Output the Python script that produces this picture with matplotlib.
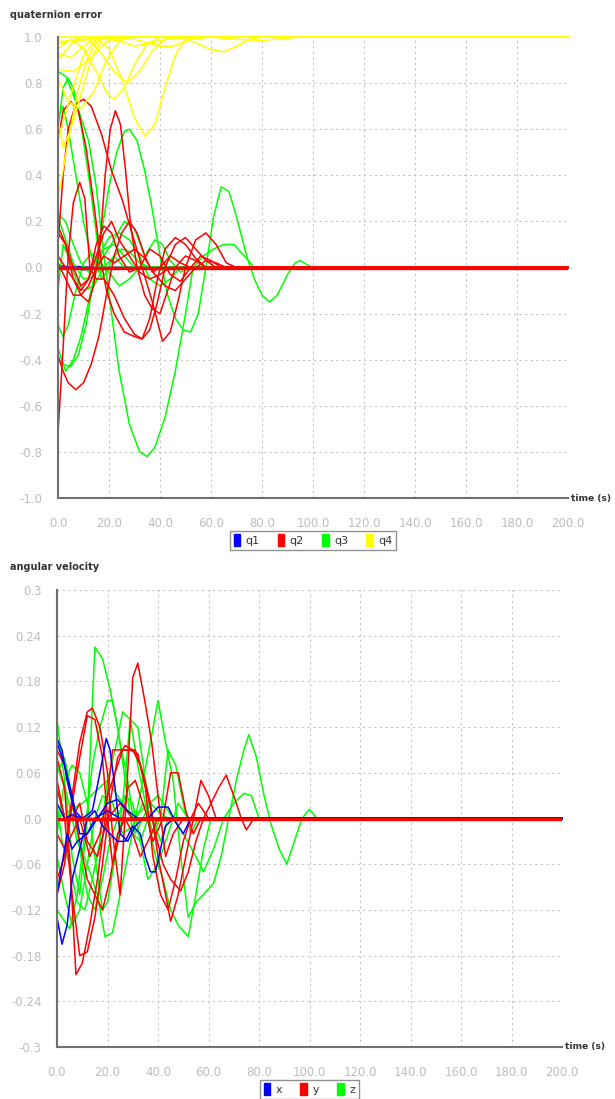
import matplotlib
matplotlib.use("Agg")
import matplotlib.pyplot as plt
from matplotlib.patches import Patch

# ---- quaternion error: each run is a list of (time, value) points ----
q1_runs = [
    [(0, 0.01), (5, 0.0), (10, -0.01), (20, 0.0), (200, 0.0)],
    [(0, -0.01), (6, 0.005), (14, 0.0), (200, 0.0)],
]

q2_runs = [
    [(0, 0.55), (2, 0.68), (5, 0.72), (8, 0.68), (11, 0.52), (14, 0.28), (17, 0.02), (19, -0.1), (22, -0.2),
     (26, -0.28), (30, -0.3), (33, -0.31), (36, -0.22), (39, -0.05), (42, 0.08), (46, 0.13), (50, 0.1),
     (54, 0.04), (58, 0.0), (200, 0.0)],
    [(0, 0.1), (2, 0.4), (4, 0.6), (7, 0.71), (10, 0.73), (13, 0.7), (17, 0.58), (21, 0.42), (25, 0.3),
     (29, 0.15), (33, 0.0), (37, -0.15), (41, -0.32), (44, -0.28), (47, -0.15), (50, 0.0), (54, 0.12),
     (58, 0.15), (62, 0.1), (66, 0.02), (70, 0.0), (200, 0.0)],
    [(0, -0.72), (2, -0.35), (4, 0.05), (6, 0.28), (8.5, 0.37), (10.5, 0.3), (12.5, 0.0), (15, -0.05),
     (18, -0.05), (22, -0.12), (26, -0.22), (30, -0.29), (33, -0.31), (36, -0.27), (39, -0.15), (42, 0.0),
     (46, 0.1), (50, 0.13), (54, 0.08), (58, 0.03), (62, 0.0), (200, 0.0)],
    [(0, 0.05), (3, 0.0), (6, -0.05), (9, -0.12), (12, -0.15), (14, -0.08), (16.5, 0.1), (18.5, 0.4),
     (20.5, 0.6), (22.5, 0.68), (24.5, 0.62), (26.5, 0.42), (28.5, 0.18), (31, 0.0), (34, -0.12),
     (37, -0.18), (40, -0.2), (43, -0.1), (46, 0.0), (50, 0.05), (54, 0.03), (58, 0.0), (200, 0.0)],
    [(0, 0.15), (3, 0.1), (6, 0.0), (9, -0.08), (12, -0.05), (15, 0.1), (18, 0.18), (21, 0.15), (24, 0.05),
     (28, -0.02), (32, 0.0), (36, 0.08), (40, 0.05), (44, -0.03), (48, -0.06), (52, 0.0), (56, 0.05),
     (60, 0.03), (64, 0.0), (200, 0.0)],
    [(0, -0.38), (2, -0.45), (4, -0.5), (7, -0.53), (10, -0.5), (13, -0.42), (16, -0.3), (19, -0.12),
     (22, 0.05), (25, 0.15), (28, 0.2), (31, 0.15), (34, 0.05), (37, -0.02), (40, 0.0), (44, 0.05),
     (48, 0.02), (52, 0.0), (200, 0.0)],
    [(0, 0.02), (3, -0.05), (6, -0.12), (9, -0.12), (12, -0.08), (15, 0.0), (18, 0.05), (22, 0.02),
     (26, 0.05), (30, 0.08), (34, 0.04), (38, -0.03), (42, -0.08), (46, -0.1), (50, -0.05), (54, 0.0),
     (58, 0.03), (62, 0.02), (66, 0.0), (200, 0.0)],
    [(0, 0.18), (3, 0.1), (6, -0.05), (9, -0.1), (12, -0.05), (15, 0.05), (18, 0.15), (21, 0.2), (24, 0.12),
     (28, 0.05), (32, -0.02), (36, -0.05), (40, -0.03), (44, 0.0), (200, 0.0)],
]

q3_runs = [
    [(0, 0.85), (3, 0.83), (6, 0.75), (9, 0.65), (12, 0.55), (15, 0.35), (18, 0.05), (21, -0.2),
     (24, -0.45), (28, -0.68), (32, -0.8), (35, -0.82), (38, -0.78), (42, -0.65), (46, -0.45), (50, -0.2),
     (53, 0.0), (57, 0.05), (61, 0.08), (65, 0.1), (69, 0.1), (73, 0.05), (77, 0.0), (200, 0.0)],
    [(0, -0.4), (2, -0.42), (5, -0.43), (8, -0.38), (11, -0.25), (14, -0.05), (17, 0.15), (20, 0.35),
     (23, 0.5), (26, 0.59), (28, 0.6), (31, 0.55), (34, 0.42), (37, 0.25), (40, 0.05), (43, -0.12),
     (46, -0.22), (49, -0.27), (52, -0.28), (55, -0.2), (58, 0.0), (61, 0.22), (64, 0.35), (67, 0.33),
     (70, 0.22), (74, 0.05), (77, -0.05), (80, -0.12), (83, -0.15), (86, -0.12), (90, -0.03), (93, 0.02),
     (95, 0.03), (98, 0.01), (100, 0.0), (200, 0.0)],
    [(0, 0.6), (2, 0.78), (4, 0.82), (6, 0.78), (9, 0.62), (12, 0.4), (15, 0.15), (17, -0.05), (19, -0.02),
     (22, 0.05), (25, 0.08), (28, 0.07), (32, 0.02), (36, 0.0), (200, 0.0)],
    [(0, 0.23), (3, 0.2), (6, 0.1), (9, 0.02), (12, -0.02), (16, 0.05), (20, 0.13), (24, 0.15), (28, 0.12),
     (32, 0.05), (36, -0.05), (40, -0.08), (44, -0.05), (48, 0.0), (200, 0.0)],
    [(0, 0.22), (3, 0.12), (6, 0.02), (10, -0.05), (14, -0.04), (18, 0.05), (22, 0.12), (26, 0.2),
     (30, 0.17), (34, 0.05), (38, 0.12), (41, 0.1), (44, 0.03), (48, -0.02), (52, 0.0), (200, 0.0)],
    [(0, -0.25), (2, -0.3), (4, -0.25), (7, -0.1), (10, 0.02), (13, 0.06), (16, 0.03), (20, -0.02),
     (24, -0.08), (28, -0.05), (32, 0.0), (200, 0.0)],
    [(0, -0.1), (2, 0.1), (4, 0.05), (7, -0.05), (10, -0.1), (14, -0.08), (18, 0.0), (22, 0.05), (26, 0.0),
     (200, 0.0)],
    [(0, -0.35), (3, -0.45), (6, -0.4), (9, -0.3), (12, -0.15), (15, 0.0), (18, 0.08), (22, 0.1), (26, 0.05),
     (30, 0.0), (200, 0.0)],
    [(0, 0.65), (2, 0.7), (4, 0.6), (7, 0.4), (10, 0.2), (13, 0.05), (16, -0.02), (20, 0.0), (200, 0.0)],
]

q4_runs = [
    [(0, 0.30), (4, 0.55), (8, 0.78), (12, 0.92), (16, 0.99), (20, 1.0), (200, 1.0)],
    [(0, 0.55), (5, 0.75), (10, 0.92), (15, 0.99), (20, 0.95), (25, 0.82), (30, 0.65), (34, 0.57),
     (38, 0.62), (42, 0.78), (46, 0.92), (50, 0.99), (55, 1.0), (200, 1.0)],
    [(0, 0.95), (5, 0.99), (10, 0.95), (15, 0.85), (19, 0.76), (22, 0.73), (26, 0.78), (30, 0.88),
     (35, 0.97), (40, 1.0), (200, 1.0)],
    [(0, 0.9), (6, 0.98), (12, 0.99), (17, 0.93), (22, 0.85), (27, 0.80), (32, 0.85), (37, 0.94),
     (42, 0.99), (47, 1.0), (200, 1.0)],
    [(0, 0.65), (2, 0.52), (5, 0.6), (9, 0.75), (13, 0.9), (17, 0.99), (22, 1.0), (200, 1.0)],
    [(0, 0.82), (4, 0.72), (9, 0.69), (14, 0.76), (19, 0.9), (24, 0.98), (28, 1.0), (200, 1.0)],
    [(0, 0.93), (5, 0.91), (10, 0.96), (15, 1.0), (25, 0.98), (30, 0.96), (35, 0.97), (42, 0.99),
     (50, 1.0), (200, 1.0)],
    [(0, 0.98), (20, 1.0), (40, 1.0), (50, 0.99), (55, 0.97), (60, 0.945), (65, 0.935), (70, 0.96),
     (75, 0.99), (80, 1.0), (200, 1.0)],
    [(0, 0.97), (10, 1.0), (30, 0.99), (40, 0.96), (45, 0.96), (52, 0.99), (60, 1.0), (200, 1.0)],
    [(0, 1.0), (60, 1.0), (70, 0.99), (80, 0.985), (85, 0.99), (95, 1.0), (200, 1.0)],
    [(0, 0.86), (6, 0.85), (12, 0.9), (18, 0.97), (22, 1.0), (200, 1.0)],
]

# ---- angular velocity ----
wx_runs = [
    [(0, 0.105), (2, 0.09), (4, 0.05), (7, 0.01), (10, 0.0), (14, 0.01), (17, 0.06), (19.5, 0.105),
     (21, 0.09), (23, 0.04), (25, -0.02), (28, -0.03), (31, -0.01), (34, 0.0), (40, 0.0), (200, 0.0)],
    [(0, -0.13), (2, -0.165), (4, -0.14), (6, -0.08), (9, -0.04), (12, 0.0), (15, 0.01), (18, -0.01),
     (21, -0.02), (24, -0.03), (27, -0.03), (30, -0.01), (33, -0.02), (35, -0.05), (37, -0.07), (39, -0.07),
     (41, -0.04), (43, -0.01), (46, 0.0), (200, 0.0)],
    [(0, 0.1), (3, 0.07), (6, 0.03), (9, -0.02), (12, -0.02), (16, 0.0), (20, 0.02), (24, 0.025),
     (28, 0.01), (32, 0.0), (36, 0.0), (40, 0.015), (44, 0.015), (47, -0.005), (50, -0.02), (53, 0.0),
     (200, 0.0)],
    [(0, -0.1), (2, -0.06), (4, -0.02), (6, -0.04), (8, -0.03), (12, -0.02), (15, 0.0), (20, 0.01),
     (25, 0.0), (200, 0.0)],
    [(0, 0.02), (3, 0.0), (6, 0.005), (10, 0.0), (200, 0.0)],
]

wy_runs = [
    [(0, 0.08), (3, 0.04), (5, -0.05), (7.5, -0.205), (10, -0.19), (13, -0.14), (16, -0.08), (19, 0.0),
     (22, 0.09), (25, 0.09), (28, 0.09), (31, 0.09), (34, 0.06), (37, 0.02), (40, -0.05), (43, -0.1),
     (45, -0.135), (48, -0.1), (51, -0.05), (54, 0.0), (57, 0.05), (60, 0.03), (63, 0.0), (200, 0.0)],
    [(0, 0.05), (3, 0.0), (6, -0.1), (9, -0.18), (12, -0.175), (15, -0.13), (18, -0.06), (21, 0.02),
     (24, 0.08), (27, 0.096), (30, 0.09), (33, 0.07), (36, 0.03), (39, -0.02), (42, -0.06), (45, -0.08),
     (49, -0.095), (52, -0.07), (55, -0.03), (58, 0.0), (61, 0.02), (64, 0.04), (67, 0.057), (70, 0.03),
     (73, 0.0), (75, -0.015), (78, 0.0), (200, 0.0)],
    [(0, -0.08), (3, -0.05), (6, 0.03), (9, 0.1), (12, 0.14), (14, 0.145), (17, 0.12), (20, 0.06),
     (22, -0.02), (25, -0.1), (27.5, 0.03), (30, 0.185), (32, 0.204), (35, 0.15), (37.5, 0.1), (40, 0.03),
     (43, -0.05), (46, -0.02), (50, 0.0), (200, 0.0)],
    [(0, -0.1), (3, -0.06), (6, 0.02), (9, 0.08), (12, 0.135), (15, 0.13), (18, 0.08), (20, 0.0),
     (22, -0.06), (25, -0.02), (28, 0.04), (31, 0.05), (35, 0.01), (38, -0.03), (42, 0.0), (45, 0.06),
     (48, 0.06), (51, 0.01), (54, -0.02), (57, 0.0), (200, 0.0)],
    [(0, 0.09), (3, 0.07), (6, 0.02), (9, -0.03), (12, -0.08), (15, -0.1), (18, -0.12), (21, -0.08),
     (24, -0.02), (27, 0.0), (30, -0.02), (33, -0.05), (36, -0.03), (40, 0.0), (200, 0.0)],
    [(0, -0.02), (3, -0.04), (6, -0.02), (9, 0.0), (13, -0.05), (17, -0.02), (20, 0.03), (23, 0.06),
     (26, 0.09), (29, 0.09), (32, 0.085), (35, 0.04), (38, -0.05), (41, -0.1), (44, -0.12), (47, -0.08),
     (50, -0.03), (53, 0.0), (56, 0.02), (60, 0.0), (200, 0.0)],
    [(0, 0.04), (3, 0.0), (6, 0.0), (9, 0.02), (12, -0.03), (16, -0.05), (20, 0.0), (25, 0.02), (30, 0.0),
     (200, 0.0)],
]

wz_runs = [
    [(0, 0.13), (3, 0.05), (6, -0.05), (9, -0.1), (12, 0.0), (15, 0.225), (18, 0.21), (21, 0.17),
     (24, 0.12), (27, 0.05), (30, -0.02), (33, -0.03), (36, 0.0), (39, -0.05), (42, -0.08), (45, -0.12),
     (48, -0.14), (52, -0.155), (55, -0.1), (58, -0.04), (61, 0.0), (200, 0.0)],
    [(0, 0.07), (4, 0.03), (8, -0.03), (12, -0.06), (16, -0.1), (19, -0.155), (22, -0.15), (25, -0.1),
     (28, -0.05), (31, 0.0), (34, 0.05), (37, 0.1), (40, 0.155), (43, 0.1), (46, 0.05), (49, -0.05),
     (52, -0.13), (55, -0.11), (58, -0.1), (62, -0.085), (65, -0.05), (68, 0.0), (71, 0.05), (74, 0.09),
     (76, 0.11), (79, 0.08), (82, 0.03), (85, -0.01), (88, -0.04), (91, -0.06), (94, -0.03), (97, 0.0),
     (100, 0.012), (103, 0.0), (200, 0.0)],
    [(0, -0.12), (2, -0.13), (5, -0.145), (8, -0.1), (11, -0.02), (14, 0.07), (17, 0.12), (20, 0.155),
     (22, 0.155), (25, 0.1), (28, 0.05), (31, -0.02), (34, 0.0), (37, 0.02), (40, 0.01), (44, 0.0),
     (200, 0.0)],
    [(0, -0.02), (3, 0.05), (6, 0.07), (9, 0.06), (12, 0.02), (15, -0.05), (18, -0.12), (20, -0.11),
     (23, -0.05), (26, 0.02), (29, 0.13), (32, 0.12), (35, 0.05), (38, 0.0), (41, -0.03), (44, 0.0),
     (200, 0.0)],
    [(0, 0.02), (2, -0.03), (5, -0.06), (8, -0.11), (11, -0.12), (14, -0.08), (17, -0.03), (20, 0.05),
     (23, 0.09), (26, 0.14), (29, 0.13), (32, 0.07), (35, 0.02), (38, -0.02), (41, 0.0), (44, 0.09),
     (47, 0.07), (50, 0.02), (53, -0.02), (56, 0.0), (200, 0.0)],
    [(0, 0.06), (3, 0.08), (6, 0.03), (9, -0.04), (12, -0.1), (15, -0.12), (18, -0.08), (21, -0.03),
     (24, 0.0), (27, 0.03), (30, 0.02), (33, -0.03), (36, -0.08), (40, -0.06), (44, -0.02), (48, 0.02),
     (52, 0.0), (200, 0.0)],
    [(0, -0.05), (3, -0.1), (6, -0.14), (9, -0.12), (12, -0.06), (15, 0.0), (18, 0.03), (22, 0.02),
     (26, -0.02), (30, -0.01), (34, 0.02), (38, 0.0), (200, 0.0)],
    [(0, 0.0), (10, 0.02), (20, 0.05), (30, 0.0), (40, 0.03), (50, -0.02), (55, -0.05), (58, -0.07),
     (62, -0.04), (66, 0.0), (70, 0.02), (74, 0.033), (77, 0.03), (80, 0.0), (200, 0.0)],
]

# converged part of the runs (drawn heavier, like the overlapping curves)
settled_t = [0, 200]
settled_v = [0.0, 0.0]

x_ticks = [0, 20, 40, 60, 80, 100, 120, 140, 160, 180, 200]
q_ticks = [-1.0, -0.8, -0.6, -0.4, -0.2, 0.0, 0.2, 0.4, 0.6, 0.8, 1.0]
w_ticks = [-0.3, -0.24, -0.18, -0.12, -0.06, 0.0, 0.06, 0.12, 0.18, 0.24, 0.3]
w_tick_labels = ["-0.3", "-0.24", "-0.18", "-0.12", "-0.06", "0.0", "0.06", "0.12", "0.18", "0.24", "0.3"]

BLUE, RED, GREEN, YELLOW = "#0000ff", "#ff0000", "#00ff00", "#ffff00"
TICK_C = "#bdbdbd"


def style_axes(ax, yticks, ylabels, ylim):
    ax.set_xlim(0, 200)
    ax.set_ylim(*ylim)
    ax.set_xticks(x_ticks)
    ax.set_xticklabels(["%.1f" % t for t in x_ticks])
    ax.set_yticks(yticks)
    ax.set_yticklabels(ylabels)
    ax.tick_params(length=0, labelsize=8.5, labelcolor=TICK_C)
    ax.tick_params(axis="y", pad=11)
    ax.tick_params(axis="x", pad=14)
    for s in ("top", "right"):
        ax.spines[s].set_visible(False)
    for s in ("left", "bottom"):
        ax.spines[s].set_color("#707070")
        ax.spines[s].set_linewidth(1.5)
        ax.spines[s].set_zorder(5)
    ax.grid(True, color="#c4c4c4", linestyle=(0, (2, 3)), linewidth=0.8)
    ax.set_axisbelow(True)
    ax.text(1.006, 0.0, "time (s)", transform=ax.transAxes, ha="left", va="center",
            fontsize=6.6, fontweight="bold", color="#333333")


def draw_runs(ax, runs, color):
    for run in runs:
        ax.plot([p[0] for p in run], [p[1] for p in run], color=color, lw=1.1, clip_on=False)


def add_legend(ax, names, colors, y):
    handles = [Patch(facecolor=c, edgecolor=c, label=n) for n, c in zip(names, colors)]
    leg = ax.legend(handles=handles, loc="upper center", bbox_to_anchor=(0.5, y), ncol=len(names),
                    frameon=True, fancybox=False, fontsize=8, borderaxespad=0, handlelength=0.6,
                    handleheight=1.3, handletextpad=0.5, columnspacing=1.6, borderpad=0.3)
    leg.get_frame().set_edgecolor("#777777")
    leg.get_frame().set_linewidth(1.0)
    for t in leg.get_texts():
        t.set_color("#333333")


fig = plt.figure(figsize=(6.15, 10.99), dpi=100)

ax1 = fig.add_axes([58 / 615, 1 - 498 / 1099, 510 / 615, 461 / 1099])
style_axes(ax1, q_ticks, ["%.1f" % v for v in q_ticks], (-1.0, 1.0))
draw_runs(ax1, q1_runs, BLUE)
draw_runs(ax1, q3_runs, GREEN)
draw_runs(ax1, q2_runs, RED)
draw_runs(ax1, q4_runs, YELLOW)
ax1.plot(settled_t, settled_v, color=RED, lw=2.4)
add_legend(ax1, ["q1", "q2", "q3", "q4"], [BLUE, RED, GREEN, YELLOW], -0.0716)
fig.text(10 / 615, 1 - 15 / 1099, "quaternion error", fontsize=7, fontweight="bold",
         color="#333333", va="center", ha="left")

ax2 = fig.add_axes([57 / 615, 1 - 1047 / 1099, 505 / 615, 457 / 1099])
style_axes(ax2, w_ticks, w_tick_labels, (-0.3, 0.3))
draw_runs(ax2, wz_runs, GREEN)
draw_runs(ax2, wy_runs, RED)
draw_runs(ax2, wx_runs, BLUE)
ax2.plot(settled_t, settled_v, color=RED, lw=2.4)
add_legend(ax2, ["x", "y", "z"], [BLUE, RED, GREEN], -0.0722)
fig.text(10 / 615, 1 - 567 / 1099, "angular velocity", fontsize=7, fontweight="bold",
         color="#333333", va="center", ha="left")

fig.savefig("out.png", dpi=100)
